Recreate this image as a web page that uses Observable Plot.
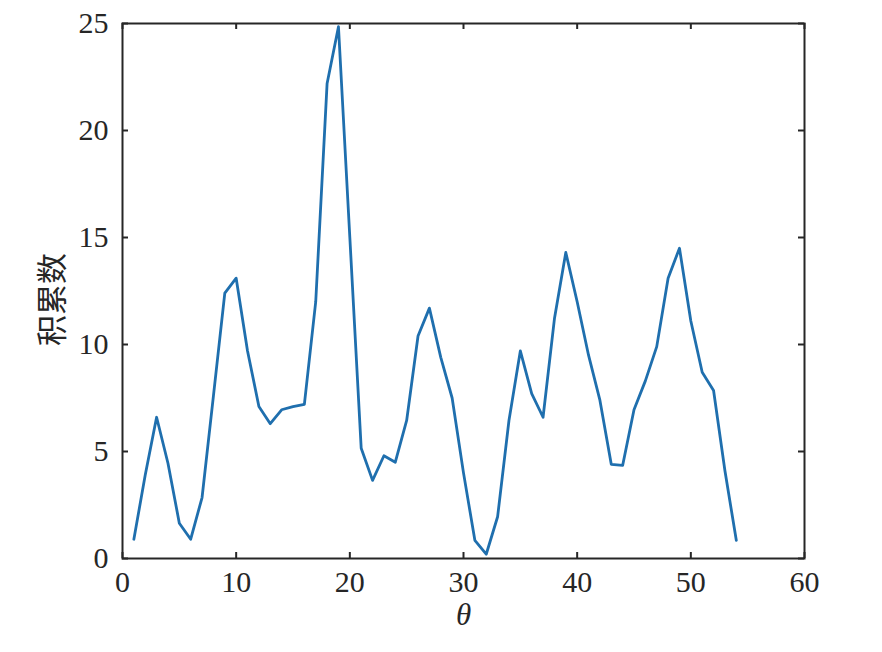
<!DOCTYPE html>
<html>
<head>
<meta charset="utf-8">
<script src="https://cdn.jsdelivr.net/npm/d3@7"></script>
<script src="https://cdn.jsdelivr.net/npm/@observablehq/plot@0.6"></script>
<style>
  body { margin: 0; background: white; }
  #chart { width: 882px; height: 652px; }
</style>
</head>
<body>
<div id="chart"></div>
<script>
const thetaValues = d3.range(1, 55);
const counts = [
  0.9, 3.9, 6.6, 4.45, 1.65, 0.9, 2.85, 7.6, 12.4, 13.1,
  9.7, 7.1, 6.3, 6.95, 7.1, 7.2, 12.0, 22.2, 24.85, 15.0,
  5.15, 3.65, 4.8, 4.5, 6.45, 10.4, 11.7, 9.4, 7.5, 4.0,
  0.85, 0.2, 1.95, 6.45, 9.7, 7.7, 6.6, 11.2, 14.3, 12.0,
  9.5, 7.4, 4.4, 4.35, 6.95, 8.3, 9.9, 13.1, 14.5, 11.1,
  8.7, 7.85, 4.1, 0.85
];
const xTicks = [0, 10, 20, 30, 40, 50, 60];
const yTicks = [0, 5, 10, 15, 20, 25];
const xLabel = "θ";
const yLabel = "积累数";

const data = thetaValues.map((t, i) => ({theta: t, count: counts[i]}));

const W = 882, H = 652;
const mL = 122, mR = 78, mT = 23, mB = 94;
const innerW = W - mL - mR, innerH = H - mT - mB;
const tickLen = 6;
const axisColor = "#262626";
const serif = "'Liberation Serif', 'Times New Roman', serif";

const chart = Plot.plot({
  width: W,
  height: H,
  marginLeft: mL,
  marginRight: mR,
  marginTop: mT,
  marginBottom: mB,
  x: {domain: [0, 60]},
  y: {domain: [0, 25]},
  style: {fontFamily: serif, fontSize: "30px", background: "white", color: axisColor},
  marks: [
    Plot.line(data, {x: "theta", y: "count", stroke: "#1f6fae", strokeWidth: 2.8}),
    Plot.tickX(xTicks, {x: d => d, insetTop: innerH - tickLen, stroke: axisColor, strokeWidth: 2}),
    Plot.tickX(xTicks, {x: d => d, insetBottom: innerH - tickLen, stroke: axisColor, strokeWidth: 2}),
    Plot.tickY(yTicks, {y: d => d, insetRight: innerW - tickLen, stroke: axisColor, strokeWidth: 2}),
    Plot.tickY(yTicks, {y: d => d, insetLeft: innerW - tickLen, stroke: axisColor, strokeWidth: 2}),
    Plot.frame({stroke: axisColor, strokeWidth: 2}),
    Plot.axisX({ticks: xTicks, tickSize: 0, tickPadding: 12, label: null, fontSize: 30, fontFamily: serif, fill: axisColor}),
    Plot.axisY({ticks: yTicks, tickSize: 0, tickPadding: 14, label: null, fontSize: 30, fontFamily: serif, fill: axisColor}),
    Plot.text([xLabel], {text: d => d, frameAnchor: "bottom", dy: 66, fontSize: 31, fontStyle: "italic", fontFamily: serif, fill: axisColor}),
    Plot.text([yLabel], {text: d => d, frameAnchor: "left", rotate: -90, dx: -69, dy: 55, fontSize: 31, fontFamily: "'Noto Sans CJK SC', sans-serif", fill: axisColor})
  ]
});
document.getElementById("chart").appendChild(chart);
</script>
</body>
</html>
